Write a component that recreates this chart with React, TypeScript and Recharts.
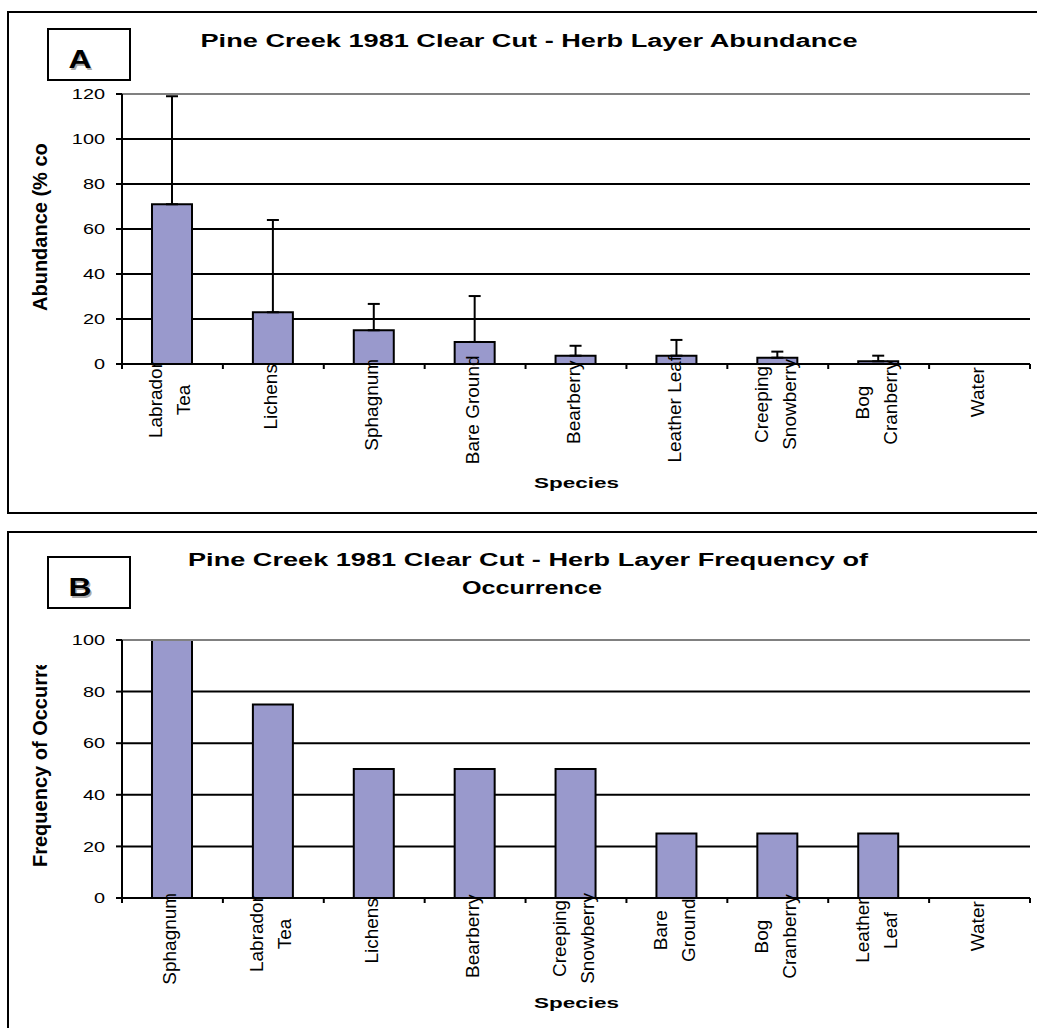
import React from "react";
import {
  Bar,
  BarChart,
  CartesianGrid,
  ErrorBar,
  ReferenceLine,
  XAxis,
  YAxis,
} from "recharts";

// Panel A - abundance (% cover), with upward error bars
const abundanceSpecies = [
  "Labrador\nTea",
  "Lichens",
  "Sphagnum",
  "Bare Ground",
  "Bearberry",
  "Leather Leaf",
  "Creeping\nSnowberry",
  "Bog\nCranberry",
  "Water",
];
const abundanceValues = [71, 23, 15, 9.8, 3.7, 3.7, 2.8, 1.2, 0];
const abundanceErrors = [48, 41, 11.7, 20.4, 4.4, 7, 2.7, 2.5, 0];
const abundanceTicks = [0, 20, 40, 60, 80, 100, 120];

// Panel B - frequency of occurrence
const frequencySpecies = [
  "Sphagnum",
  "Labrador\nTea",
  "Lichens",
  "Bearberry",
  "Creeping\nSnowberry",
  "Bare\nGround",
  "Bog\nCranberry",
  "Leather\nLeaf",
  "Water",
];
const frequencyValues = [100, 75, 50, 50, 50, 25, 25, 25, 0];
const frequencyTicks = [0, 20, 40, 60, 80, 100];

const FONT = '"Liberation Sans", Arial, sans-serif';
const BAR_FILL = "#9999CC";
const PLOT_W = 908;

const abundanceData = abundanceSpecies.map((name, i) => ({
  name,
  value: abundanceValues[i],
  err: [0, abundanceErrors[i]],
}));
const frequencyData = frequencySpecies.map((name, i) => ({
  name,
  value: frequencyValues[i],
}));

let measureCtx: CanvasRenderingContext2D | null = null;
function textWidth(s: string, font: string) {
  if (!measureCtx) measureCtx = document.createElement("canvas").getContext("2d");
  if (!measureCtx) return s.length * 10;
  measureCtx.font = font;
  return measureCtx.measureText(s).width;
}

function ValueTick(props: any) {
  const { x, y, payload } = props;
  return (
    <g transform={`translate(${x},${y})`}>
      <text
        transform="scale(1.37,1)"
        textAnchor="end"
        dy="0.36em"
        fontSize={14.5}
        fontFamily={FONT}
        fill="#000"
      >
        {payload.value}
      </text>
    </g>
  );
}

function SpeciesTick(props: any) {
  const { x, y, payload, index, n } = props;
  const half = payload?.offset || PLOT_W / n / 2;
  const lines = String(payload.value).split("\n");
  const font = `19px ${FONT}`;
  const longest = Math.max(...lines.map((t) => textWidth(t, font)));
  const blockTop = y + 3 - 0.2 * (longest - 51);
  const cy = blockTop + longest / 2;
  return (
    <g>
      <line x1={x - half} x2={x - half} y1={y} y2={y + 5} stroke="#000" strokeWidth={2} />
      {index === n - 1 && (
        <line x1={x + half} x2={x + half} y1={y} y2={y + 5} stroke="#000" strokeWidth={2} />
      )}
      {lines.map((t, i) => {
        const lx = x + 4 + (i - (lines.length - 1) / 2) * 28;
        return (
          <text
            key={i}
            x={lx}
            y={cy}
            transform={`rotate(-90 ${lx} ${cy})`}
            textAnchor="middle"
            fontSize={19}
            fontFamily={FONT}
            fill="#000"
          >
            {t}
          </text>
        );
      })}
    </g>
  );
}

function Panel(props: {
  data: any[];
  ticks: number[];
  yMax: number;
  top: number;
  height: number;
  marginTop: number;
  marginBottom: number;
  axisHeight: number;
  errors?: boolean;
}) {
  const { data, ticks, yMax, top, height, marginTop, marginBottom, axisHeight, errors } = props;
  return (
    <div style={{ position: "absolute", left: 0, top, zIndex: 1 }}>
      <BarChart
        width={1037}
        height={height}
        data={data}
        margin={{ top: marginTop, right: 7, bottom: marginBottom, left: 62 }}
        barSize={40}
      >
        <CartesianGrid vertical={false} stroke="#000" strokeWidth={2} />
        <XAxis
          dataKey="name"
          interval={0}
          height={axisHeight}
          tickLine={false}
          tickSize={0}
          tickMargin={0}
          axisLine={{ stroke: "#000", strokeWidth: 2 }}
          tick={(p: any) => <SpeciesTick {...p} n={data.length} />}
        />
        <YAxis
          domain={[0, yMax]}
          ticks={ticks}
          interval={0}
          width={60}
          tickSize={6}
          tickMargin={11}
          axisLine={{ stroke: "#000", strokeWidth: 2 }}
          tickLine={{ stroke: "#000", strokeWidth: 2 }}
          tick={(p: any) => <ValueTick {...p} />}
        />
        <YAxis
          yAxisId="r"
          orientation="right"
          domain={[0, yMax]}
          width={0}
          tick={false}
          tickLine={false}
          axisLine={{ stroke: "#808080", strokeWidth: 2 }}
        />
        <ReferenceLine y={yMax} stroke="#808080" strokeWidth={2} />
        <Bar dataKey="value" fill={BAR_FILL} stroke="#000" strokeWidth={2} isAnimationActive={false}>
          {errors && (
            <ErrorBar
              dataKey="err"
              direction="y"
              width={6}
              stroke="#000"
              strokeWidth={2}
              isAnimationActive={false}
            />
          )}
        </Bar>
      </BarChart>
    </div>
  );
}

function LetterBox({ y, letter }: { y: number; letter: string }) {
  return (
    <g>
      <rect x={48} y={y} width={82} height={51} fill="#fff" stroke="#000" strokeWidth={2} />
      <text
        x={81.5}
        y={y + 40.5}
        textAnchor="middle"
        fontSize={26}
        fontWeight="bold"
        fontFamily={FONT}
        fill="#aaa"
        textLength={23}
        lengthAdjust="spacingAndGlyphs"
      >
        {letter}
      </text>
      <text
        x={80}
        y={y + 39}
        textAnchor="middle"
        fontSize={26}
        fontWeight="bold"
        fontFamily={FONT}
        fill="#000"
        textLength={23}
        lengthAdjust="spacingAndGlyphs"
      >
        {letter}
      </text>
    </g>
  );
}

function Title({ x, y, len, size, children }: any) {
  return (
    <text
      x={x}
      y={y}
      textAnchor="middle"
      fontSize={size}
      fontWeight="bold"
      fontFamily={FONT}
      fill="#000"
      textLength={len}
      lengthAdjust="spacingAndGlyphs"
    >
      {children}
    </text>
  );
}

function Decorations() {
  return (
    <svg
      width={1037}
      height={1028}
      style={{ position: "absolute", left: 0, top: 0, zIndex: 0 }}
    >
      <defs>
        <clipPath id="clipB">
          <rect x={0} y={665} width={120} height={300} />
        </clipPath>
      </defs>
      <rect x={8} y={12} width={1040} height={501} fill="#fff" stroke="#000" strokeWidth={2} />
      <rect x={8} y={532} width={1040} height={520} fill="#fff" stroke="#000" strokeWidth={2} />
      <LetterBox y={29} letter="A" />
      <LetterBox y={557} letter="B" />
      <Title x={529} y={47} len={657} size={18}>
        Pine Creek 1981 Clear Cut - Herb Layer Abundance
      </Title>
      <Title x={528} y={566} len={680} size={18}>
        Pine Creek 1981 Clear Cut - Herb Layer Frequency of
      </Title>
      <Title x={532} y={594} len={140} size={18}>
        Occurrence
      </Title>
      <Title x={576.5} y={488} len={85} size={15}>
        Species
      </Title>
      <Title x={576.5} y={1008} len={85} size={15}>
        Species
      </Title>
      <text
        x={47}
        y={311}
        transform="rotate(-90 47 311)"
        fontSize={20}
        fontWeight="bold"
        fontFamily={FONT}
        fill="#000"
      >
        Abundance (% co
      </text>
      <g clipPath="url(#clipB)">
        <text
          x={47}
          y={867}
          transform="rotate(-90 47 867)"
          fontSize={20}
          fontWeight="bold"
          fontFamily={FONT}
          fill="#000"
        >
          Frequency of Occurrence
        </text>
      </g>
    </svg>
  );
}

export default function App() {
  return (
    <div
      style={{
        position: "absolute",
        left: 0,
        top: 0,
        width: 1037,
        height: 1028,
        overflow: "hidden",
        background: "#fff",
        fontFamily: FONT,
      }}
    >
      <Decorations />
      <Panel
        data={abundanceData}
        ticks={abundanceTicks}
        yMax={120}
        top={0}
        height={513}
        marginTop={94}
        marginBottom={29}
        axisHeight={120}
        errors
      />
      <Panel
        data={frequencyData}
        ticks={frequencyTicks}
        yMax={100}
        top={520}
        height={508}
        marginTop={120}
        marginBottom={20}
        axisHeight={110}
      />
    </div>
  );
}
